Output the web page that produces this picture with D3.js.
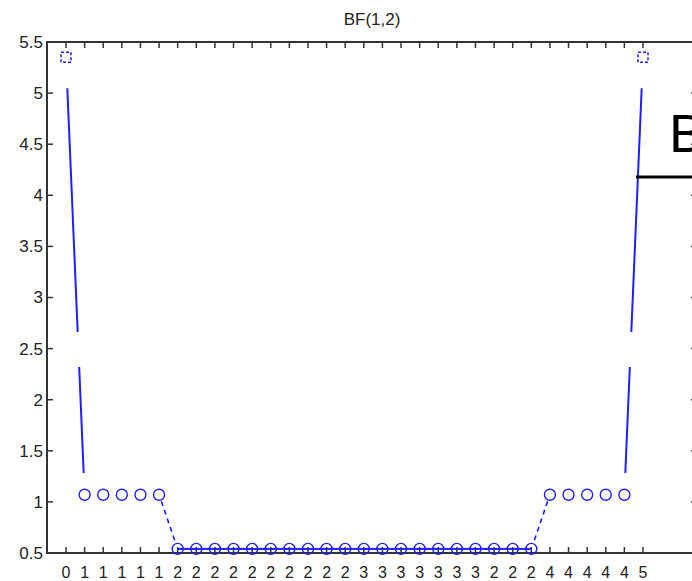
<!DOCTYPE html>
<html>
<head>
<meta charset="utf-8">
<script src="https://cdn.jsdelivr.net/npm/d3@7"></script>
<style>
  body { margin: 0; background: #fff; }
  svg { display: block; font-family: "Liberation Sans", Arial, sans-serif; }
</style>
</head>
<body>
<div class="plot"></div>
<script>

// values (index 0..31 along x)
const bfValues = [5.35,
  1.07, 1.07, 1.07, 1.07, 1.07,
  0.54, 0.54, 0.54, 0.54, 0.54, 0.54, 0.54, 0.54, 0.54, 0.54,
  0.54, 0.54, 0.54, 0.54, 0.54, 0.54, 0.54, 0.54, 0.54, 0.54,
  1.07, 1.07, 1.07, 1.07, 1.07,
  5.35];

const xTickLabels = ["0","1","1","1","1","1",
  "2","2","2","2","2","2","2","2","2","2",
  "3","3","3","3","3","3","3","2","2","2",
  "4","4","4","4","4","5"];

const yTicks = [0.5, 1, 1.5, 2, 2.5, 3, 3.5, 4, 4.5, 5, 5.5];
const yTickLabels = ["0.5","1","1.5","2","2.5","3","3.5","4","4.5","5","5.5"];

const titleText = "BF(1,2)";
const legendText = "B";

document.addEventListener('DOMContentLoaded', () => {
  createPlot();
});

function createPlot(){

  const width = 692, height = 581;
  const box = {left: 47, right: 697, top: 42, bottom: 553};
  const blue = "#1f1fff";
  const axisColor = "#333";

  const xScale = d3.scaleLinear()
    .domain([0, bfValues.length - 1])
    .range([66, 643]);

  const yScale = d3.scaleLinear()
    .domain([0.5, 5.5])
    .range([box.bottom, box.top]);

  const svg = d3.select('.plot')
    .append('svg')
    .attr('width', width)
    .attr('height', height);

  //Title
  svg.append('text')
    .attr('x', (box.left + box.right)/2)
    .attr('y', 25)
    .attr('text-anchor', 'middle')
    .attr('font-size', 17)
    .attr('fill', '#222')
    .text(titleText);

  //Ticks, inward on all four sides
  const idx = d3.range(bfValues.length);
  svg.append('g').selectAll('line')
    .data(idx)
    .enter()
    .append('line')
    .attr('x1', d => xScale(d)).attr('x2', d => xScale(d))
    .attr('y1', box.bottom).attr('y2', box.bottom - 6)
    .attr('stroke', axisColor).attr('stroke-width', 1.5);

  svg.append('g').selectAll('line')
    .data(idx)
    .enter()
    .append('line')
    .attr('x1', d => xScale(d)).attr('x2', d => xScale(d))
    .attr('y1', box.top).attr('y2', box.top + 6)
    .attr('stroke', axisColor).attr('stroke-width', 1.5);

  svg.append('g').selectAll('line')
    .data(yTicks)
    .enter()
    .append('line')
    .attr('x1', box.left).attr('x2', box.left + 6)
    .attr('y1', d => yScale(d)).attr('y2', d => yScale(d))
    .attr('stroke', axisColor).attr('stroke-width', 1.5);

  svg.append('g').selectAll('line')
    .data(yTicks)
    .enter()
    .append('line')
    .attr('x1', box.right).attr('x2', box.right - 6)
    .attr('y1', d => yScale(d)).attr('y2', d => yScale(d))
    .attr('stroke', axisColor).attr('stroke-width', 1.5);

  //Box
  svg.append('rect')
    .attr('x', box.left)
    .attr('y', box.top)
    .attr('width', box.right - box.left)
    .attr('height', box.bottom - box.top)
    .attr('fill', 'none')
    .attr('stroke', axisColor)
    .attr('stroke-width', 2);

  //Tick labels
  svg.append('g').selectAll('text')
    .data(idx)
    .enter()
    .append('text')
    .attr('x', d => xScale(d))
    .attr('y', 578)
    .attr('text-anchor', 'middle')
    .attr('font-size', 16)
    .attr('fill', '#222')
    .text(d => xTickLabels[d]);

  svg.append('g').selectAll('text')
    .data(yTicks)
    .enter()
    .append('text')
    .attr('x', box.left - 4)
    .attr('y', d => yScale(d))
    .attr('dy', '0.35em')
    .attr('text-anchor', 'end')
    .attr('font-size', 17)
    .attr('fill', '#222')
    .text((d, i) => yTickLabels[i]);

  //Line segments between consecutive points
  const g = svg.append('g');
  for (let i = 0; i < bfValues.length - 1; i++) {
    let a = i, b = i + 1;
    const va = bfValues[a], vb = bfValues[b];
    if (va === vb && va > 0.8) continue; // no line along the upper circle groups
    // draw steep ones from the high point down
    if (vb > va) { a = i + 1; b = i; }
    const p = [xScale(a), yScale(bfValues[a])];
    const q = [xScale(b), yScale(bfValues[b])];
    const seg = g.append('line')
      .attr('x1', p[0]).attr('y1', p[1])
      .attr('x2', q[0]).attr('y2', q[1])
      .attr('stroke', blue)
      .attr('stroke-width', 2);
    const diff = Math.abs(va - vb);
    if (diff > 2) {
      seg.attr('stroke-dasharray', '0,31,244,35,106,2000');
    } else if (diff > 0) {
      const len = Math.hypot(q[0]-p[0], q[1]-p[1]);
      seg.attr('stroke-dasharray', `0,7,${dashRun(len - 14)},1000`)
         .attr('stroke-width', 1.6);
    }
  }

  function dashRun(l){
    // fill length l with 5/4 dashes
    const n = Math.max(1, Math.floor((l + 4) / 9));
    const parts = [];
    for (let k = 0; k < n; k++) { parts.push(5); if (k < n-1) parts.push(4); }
    return parts.join(',');
  }

  //Markers
  g.selectAll('.mk')
    .data(idx.filter(d => bfValues[d] < 5))
    .enter()
    .append('circle')
    .attr('class', 'mk')
    .attr('cx', d => xScale(d))
    .attr('cy', d => yScale(bfValues[d]))
    .attr('r', 5.5)
    .attr('fill', 'none')
    .attr('stroke', blue)
    .attr('stroke-width', 1.4);

  g.selectAll('.sq')
    .data(idx.filter(d => bfValues[d] >= 5))
    .enter()
    .append('rect')
    .attr('class', 'sq')
    .attr('x', d => xScale(d) - 5)
    .attr('y', d => yScale(bfValues[d]) - 5)
    .attr('width', 10)
    .attr('height', 10)
    .attr('fill', 'none')
    .attr('stroke', blue)
    .attr('stroke-width', 1.5)
    .attr('stroke-dasharray', '3,2');

  //Legend remnant at the right edge (cut by the frame, as in the reference)
  svg.append('text')
    .attr('x', 669)
    .attr('y', 152)
    .attr('font-size', 54)
    .attr('fill', '#000')
    .text(legendText);

  svg.append('line')
    .attr('x1', 636).attr('x2', width)
    .attr('y1', 177).attr('y2', 177)
    .attr('stroke', '#000')
    .attr('stroke-width', 3);
}
</script>
</body>
</html>
